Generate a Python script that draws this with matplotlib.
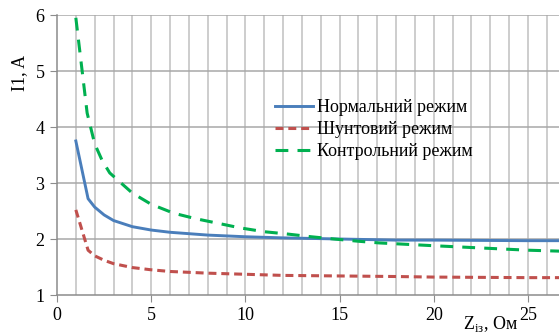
import matplotlib
matplotlib.use("Agg")
import matplotlib.pyplot as plt
import numpy as np

plt.rcParams['font.family'] = ['Liberation Serif', 'DejaVu Serif']

# Data
x_norm = [1, 1.65, 2, 2.5, 3, 4, 5, 6, 8, 10, 12, 15, 18, 20, 25, 27]
y_norm = [3.75, 2.72, 2.57, 2.43, 2.33, 2.22, 2.16, 2.12, 2.07, 2.04, 2.02, 2.0, 1.98, 1.98, 1.97, 1.97]

x_shunt = [1, 1.65, 2, 2.5, 3, 4, 5, 6, 8, 10, 12, 15, 18, 20, 25, 27]
y_shunt = [2.52, 1.80, 1.70, 1.62, 1.56, 1.49, 1.45, 1.42, 1.39, 1.37, 1.35, 1.34, 1.33, 1.32, 1.31, 1.31]

x_ctrl = [1, 1.3, 1.6, 2, 2.4, 2.8, 4, 5, 6.2, 7.4, 8.7, 9.7, 11, 12.2, 13.5, 14.7, 16, 17.1, 20, 22.5, 25, 27]
y_ctrl = [5.95, 5.1, 4.25, 3.7, 3.4, 3.18, 2.82, 2.62, 2.46, 2.36, 2.27, 2.2, 2.13, 2.09, 2.04, 2.0, 1.96, 1.93, 1.88, 1.84, 1.80, 1.78]

labels = ["Нормальний режим", "Шунтовий режим", "Контрольний режим"]
x_ticks = [0, 5, 10, 15, 20, 25]
y_ticks = [1, 2, 3, 4, 5, 6]

fig = plt.figure(figsize=(5.59, 3.36), dpi=100)
ax = fig.add_axes([57/559, 41/336, 1 - 57/559, 280/336])

ax.set_xlim(0, 26.65)
ax.set_ylim(1, 6)

# grid
for xv in range(1, 27):
    ax.axvline(xv, color='#c0c0c0', lw=1.1, zorder=0)
for yv in y_ticks[1:]:
    ax.axhline(yv, color='#a8a8a8', lw=1.1, zorder=0)

ax.plot(x_norm, y_norm, color='#4a7ebb', lw=2.1, label=labels[0], zorder=3)
ax.plot(x_shunt, y_shunt, color='#c0504d', lw=2.2, dashes=(2.6, 1.6), label=labels[1], zorder=3)
ax.plot(x_ctrl, y_ctrl, color='#00b050', lw=2.2, dashes=(4.2, 3.0), label=labels[2], zorder=3)

for s in ['right', 'top']:
    ax.spines[s].set_visible(False)
for s in ['left', 'bottom']:
    ax.spines[s].set_color('#8c8c8c')
    ax.spines[s].set_linewidth(1.1)

ax.set_xticks(x_ticks)
ax.set_yticks(y_ticks)
ax.tick_params(axis='both', direction='out', length=5, color='#8c8c8c', labelsize=13, pad=4)

leg = ax.legend(loc='upper left', bbox_to_anchor=(218/502, (295-99)/280), frameon=False,
                fontsize=13, handlelength=2.1, handletextpad=0.25, labelspacing=0.28,
                borderaxespad=0, borderpad=0)

fig.text(20/559, 1 - 73/336, "I1, A", rotation=90, ha='center', va='center', fontsize=13)
fig.text(463/559, 1 - 329/336, "Z$_{\\mathregular{із}}$, Ом", ha='left', va='baseline', fontsize=13)

fig.savefig("out.png", dpi=100)
